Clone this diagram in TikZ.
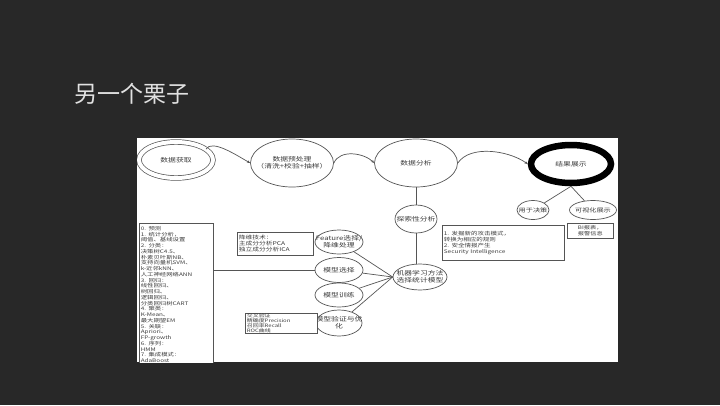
\documentclass[tikz,border=0pt]{standalone}
\usepackage{fontspec}
\setmainfont{Noto Sans CJK SC}
\newfontfamily\dgfont{Noto Sans CJK SC}[FakeStretch=1.3]
\usetikzlibrary{shapes.geometric,arrows.meta}
\definecolor{slidebg}{RGB}{40,40,40}
\definecolor{titlefg}{RGB}{225,225,225}
\definecolor{edge}{RGB}{85,85,85}
\definecolor{ink}{RGB}{60,60,60}

\begin{document}
\begin{tikzpicture}[x=1pt,y=-1pt,
  ell/.style={ellipse, draw=edge, line width=.7pt, fill=white, inner sep=0pt},
  lblA/.style={font=\dgfont\fontsize{6}{7}\selectfont, text=ink, align=center, inner sep=0pt},
  lblB/.style={font=\dgfont\fontsize{5.5}{6.5}\selectfont, text=ink, align=center, inner sep=0pt},
  infobox/.style={draw=edge, line width=.6pt, fill=white, text=ink, rectangle, anchor=north west, align=left, inner sep=1.5pt},
  conn/.style={draw=edge, line width=.7pt},
  arr/.style={conn, -{Stealth[length=3.2pt,width=2.6pt]}}]

% slide background and title
\useasboundingbox (0,0) rectangle (720,405);
\fill[slidebg] (0,0) rectangle (720,405);
\node[anchor=west, text=titlefg, font=\fontsize{23}{26}\selectfont, inner sep=0pt] (title) at (74,94) {另一个栗子};

% white sheet holding the flow chart
\fill[white] (137,138) rectangle (618,362);
\begin{scope}
\clip (137,138) rectangle (618,362);

% main pipeline
\node[ell, double=white, double distance=4pt, minimum width=74pt, minimum height=36pt,
      label={[lblA]center:数据获取}] (getdata) at (176,160) {};
\node[ell, minimum width=83pt, minimum height=48pt,
      label={[lblA]center:数据预处理\\（清洗+校验+抽样）}] (prep) at (292,163) {};
\node[ell, minimum width=83pt, minimum height=48pt,
      label={[lblA]center:数据分析}] (analysis) at (416,163) {};
\node[ellipse, draw=black, line width=6.5pt, fill=white, inner sep=0pt,
      minimum width=80pt, minimum height=38pt,
      label={[lblA]center:结果展示}] (result) at (571,164) {};

\draw[arr] (getdata.20) .. controls +(6,-10) and +(-14,-8) .. (prep.west);
\draw[arr] (prep.east) .. controls +(6,-14) and +(-10,-10) .. (analysis.west);
\draw[arr] (analysis.east) .. controls +(12,-18) and +(-20,-14) .. (result.west);

% presentation of results
\node[ell, minimum width=32pt, minimum height=19pt,
      label={[lblB]center:用于决策}] (decide) at (533,210) {};
\node[ell, minimum width=47pt, minimum height=19pt,
      label={[lblB]center:可视化展示}] (visual) at (593,210) {};
\draw[conn] (result.south) -- (decide);
\draw[conn] (result.south) -- (visual);
\node[infobox, align=center, text width=43pt, minimum height=15pt,
      font=\dgfont\fontsize{4.8}{5.4}\selectfont] (bi) at (567,223) {BI报表，\\报警信息};

% analysis branch
\node[ell, minimum width=42pt, minimum height=28pt,
      label={[lblA]center:探索性分析}] (explore) at (416,219) {};
\node[ell, minimum width=54pt, minimum height=26pt,
      label={[lblA]center:机器学习方法\\选择统计模型}] (ml) at (420,277) {};
\draw[conn] (analysis) -- (explore);
\draw[conn] (explore.south) -- (explore.south |- ml.north);

\node[infobox, text width=119pt, minimum height=35pt,
      font=\dgfont\fontsize{5}{6}\selectfont] (sec) at (442,225)
      {1. 发掘新的攻击模式，\\转换为相应的规则\\2. 安全情报产生\\Security Intelligence};

% modelling steps
\node[ell, minimum width=48pt, minimum height=24pt,
      label={[lblA]center:Feature选择/\\降维处理}] (feat) at (339,242) {};
\node[ell, minimum width=48pt, minimum height=25pt,
      label={[lblA]center:模型选择}] (msel) at (339,270) {};
\node[ell, minimum width=48pt, minimum height=24pt,
      label={[lblA]center:模型训练}] (mtrain) at (339,295) {};
\node[ell, minimum width=46pt, minimum height=26pt,
      label={[lblA]center:模型验证与优\\化}] (mval) at (339,323) {};
\foreach \n in {feat,msel,mtrain,mval}
  \draw[conn] (\n) -- (ml.west);

\node[infobox, text width=73pt, minimum height=23pt,
      font=\dgfont\fontsize{5.2}{6}\selectfont] (dim) at (237,232)
      {降维技术：\\主成分分析PCA\\独立成分分析ICA};
\node[infobox, text width=69pt, minimum height=20pt, inner ysep=0pt,
      font=\dgfont\fontsize{4.6}{5.2}\selectfont] (cv) at (245,313)
      {交叉验证\\精确度Precision\\召回率Recall\\ROC曲线};

% algorithm catalogue
\node[infobox, text width=71pt, inner ysep=3pt,
      font=\dgfont\fontsize{4.9}{5.75}\selectfont] (alg) at (139,223)
      {0. 预测\\1. 统计分析，\\阈值、基线设置\\2. 分类：\\决策树C4.5、\\朴素贝叶斯NB、\\支持向量机SVM、\\k-近邻kNN、\\人工神经网络ANN\\3. 回归：\\线性回归、\\树回归、\\逻辑回归、\\分类回归树CART\\4. 聚类：\\K-Mean、\\最大期望EM\\5. 关联：\\Apriori、\\FP-growth\\6. 序列：\\HMM\\7. 集成模式：\\AdaBoost};
\draw[conn] (alg.east |- msel) -- (msel);
\end{scope}
\end{tikzpicture}
\end{document}
